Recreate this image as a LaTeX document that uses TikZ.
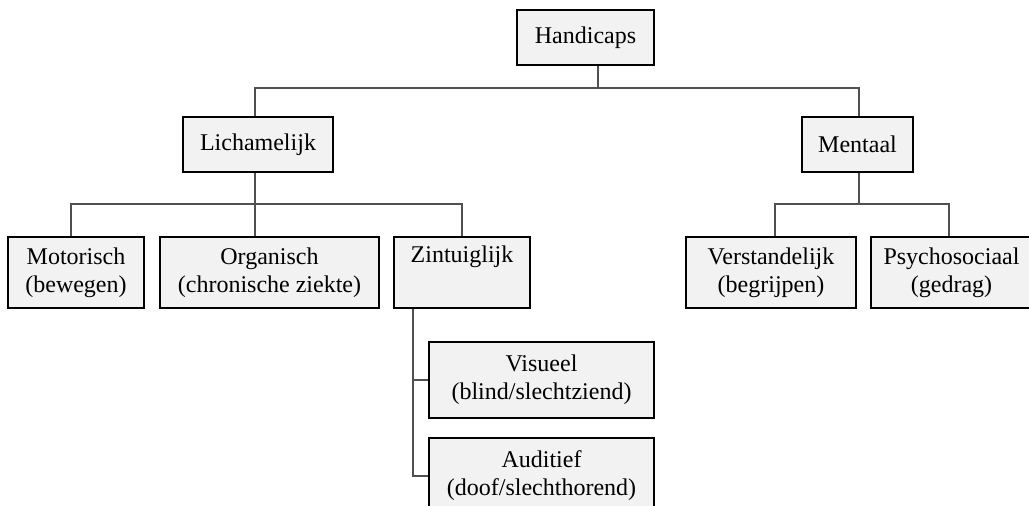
\documentclass[tikz,border=0pt]{standalone}
\usepackage{fontspec}
\setmainfont{Liberation Serif}

\definecolor{boxgray}{HTML}{F2F2F2}
\definecolor{linegray}{HTML}{505050}

\tikzset{
  catbox/.style={draw=black, line width=1.3pt, fill=boxgray, align=center, inner sep=0pt,
                 font=\fontsize{12}{14}\selectfont},
  tree/.style={draw=linegray, line width=0.6pt}
}

\begin{document}
\begin{tikzpicture}[x=0.5pt,y=-0.5pt] % one unit is one pixel of the original
    % Page size
    \useasboundingbox (0,0) rectangle (1029,506);
    \clip (0,0) rectangle (1029,506);

    % Top level
    \node[catbox, minimum width=68.5pt, minimum height=27.5pt] (hand) at (585.5,37.5) {Handicaps};

    % Second level
    \node[catbox, minimum width=75pt, minimum height=27.5pt] (lich) at (258,144.5) {Lichamelijk};
    \node[catbox, minimum width=55.5pt, minimum height=27.5pt] (ment) at (857.5,144.5) {Mentaal};

    % Third level, physical
    \node[catbox, minimum width=68pt, minimum height=35.5pt] (mot) at (76,272.5) {Motorisch\\(bewegen)};
    \node[catbox, minimum width=109.5pt, minimum height=35.5pt] (org) at (269.5,272.5) {Organisch\\(chronische ziekte)};
    \node[catbox, minimum width=68pt, minimum height=35.5pt] (zin) at (462,272.5) {Zintuiglijk\\\strut};

    % Third level, mental
    \node[catbox, minimum width=85pt, minimum height=35.5pt] (vers) at (771,272.5) {Verstandelijk\\(begrijpen)};
    \node[catbox, minimum width=80.5pt, minimum height=35.5pt] (psy) at (951.5,272.5) {Psychosociaal\\(gedrag)};

    % Senses
    \node[catbox, minimum width=112.5pt, minimum height=38pt] (vis) at (541.5,380) {Visueel\\(blind/slechtziend)};
    \node[catbox, minimum width=112.5pt, minimum height=38pt] (aud) at (541.5,476) {Auditief\\(doof/slechthorend)};

    % Junction points
    \coordinate (hj) at (598,88);
    \coordinate (lj) at (255,204);
    \coordinate (mj) at (859,204);
    \coordinate (zj) at (413,480);

    % Connectors
    \draw[tree] (hand.south -| hj) -- (hj);
    \draw[tree] (lich.north -| lj) |- (hj) -| (ment.north -| mj);

    \draw[tree] (lich.south -| lj) -- (lj);
    \draw[tree] ([xshift=-2.5pt]mot.north) |- (lj) -| (zin.north);
    \draw[tree] (org.north -| lj) -- (lj);

    \draw[tree] (ment.south -| mj) -- (mj);
    \draw[tree] ([xshift=2pt]vers.north) |- (mj) -| ([xshift=-1.25pt]psy.north);

    \draw[tree] (zin.south -| zj) |- (aud.west);
    \draw[tree] (vis.west -| zj) -- (vis.west);
\end{tikzpicture}
\end{document}
